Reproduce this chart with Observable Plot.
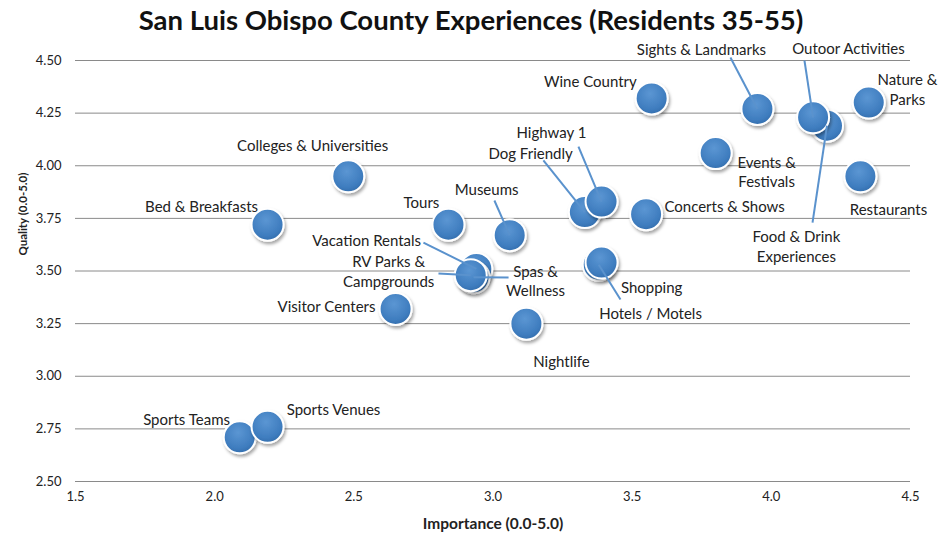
<!DOCTYPE html>
<html><head><meta charset="utf-8">
<script src="https://cdn.jsdelivr.net/npm/d3@7"></script>
<script src="https://cdn.jsdelivr.net/npm/@observablehq/plot@0.6"></script>
<style>
body{margin:0;background:#fff;font-family:Lato,"Open Sans",sans-serif;}
#title{height:40px;text-align:center;font-weight:bold;font-size:27.5px;line-height:40px;color:#111;white-space:nowrap;}
</style></head><body>
<div id="title">San Luis Obispo County Experiences (Residents 35-55)</div>
<div id="chart"></div>
<script>
// Data (drawing order: later items on top)
const names = ["Wine Country","Sights & Landmarks","Food & Drink Experiences","Outoor Activities","Nature & Parks","Events & Festivals","Restaurants","Concerts & Shows","Dog Friendly","Highway 1","Hotels / Motels","Shopping","Museums","Tours","Colleges & Universities","Bed & Breakfasts","Vacation Rentals","Spas & Wellness","RV Parks & Campgrounds","Visitor Centers","Nightlife","Sports Teams","Sports Venues"];
const importance = [3.57,3.95,4.20,4.15,4.35,3.80,4.32,3.55,3.33,3.39,3.38,3.39,3.06,2.84,2.48,2.19,2.94,2.93,2.92,2.65,3.12,2.09,2.19];
const quality    = [4.32,4.27,4.19,4.23,4.30,4.06,3.95,3.77,3.78,3.83,3.53,3.54,3.67,3.72,3.95,3.72,3.51,3.47,3.48,3.32,3.25,2.71,2.76];
const labels = ["Wine Country","Sights & Landmarks","Food & Drink\nExperiences","Outoor Activities","Nature &\nParks","Events &\nFestivals","Restaurants","Concerts & Shows","Dog Friendly","Highway 1","Hotels / Motels","Shopping","Museums","Tours","Colleges & Universities","Bed & Breakfasts","Vacation Rentals","Spas &\nWellness","RV Parks &\nCampgrounds","Visitor Centers","Nightlife","Sports Teams","Sports Venues"];
// label anchor positions (data units)
const labelX = [3.350,3.749,4.090,4.277,4.489,3.983,4.421,3.832,3.135,3.210,3.566,3.570,2.977,2.743,2.352,1.953,2.546,3.153,2.625,2.402,3.246,1.899,2.427];
const labelY = [4.405,4.557,3.621,4.562,4.365,3.973,3.797,3.811,4.063,4.163,3.303,3.426,3.892,3.830,4.101,3.811,3.650,3.455,3.502,3.336,3.075,2.799,2.847];
// leader line start (data units), null = no leader
const leaderX = [null,3.853,4.148,4.119,null,null,null,null,3.181,3.307,3.458,null,3.005,null,null,null,2.750,3.056,2.804,null,null,null,null];
const leaderY = [null,4.514,3.730,4.500,null,null,null,null,4.025,4.091,3.365,null,3.835,null,null,null,3.635,3.469,3.488,null,null,null,null];
const xTicks = [1.5,2.0,2.5,3.0,3.5,4.0,4.5];
const yTicks = [2.50,2.75,3.00,3.25,3.50,3.75,4.00,4.25,4.50];

const pts = names.map((n,i)=>({name:n, x:importance[i], y:quality[i], label:labels[i], lx:labelX[i], ly:labelY[i], sx:leaderX[i], sy:leaderY[i]}));
const leaders = pts.filter(d=>d.sx!=null);

const plot = Plot.plot({
  width: 942, height: 501,
  marginTop: 20, marginBottom: 60, marginLeft: 75, marginRight: 32,
  style: {fontFamily: "Lato, 'Open Sans', sans-serif", fontSize: "13px", color: "#222", background: "#fff"},
  x: {domain: [1.5, 4.5]},
  y: {domain: [2.5, 4.5]},
  marks: [
    Plot.gridY(yTicks, {stroke: "#8a8a8a", strokeOpacity: 1, strokeWidth: 1}),
    Plot.axisY(yTicks, {tickSize: 0, tickPadding: 14, tickFormat: d => d.toFixed(2), label: null, fontSize: 13}),
    Plot.axisX(xTicks, {tickSize: 0, tickPadding: 10, tickFormat: d => d.toFixed(1), label: null, fontSize: 13}),
    Plot.text(["Importance (0.0-5.0)"], {frameAnchor: "bottom", dy: 47, fontWeight: "bold", fontSize: 15.5, fill: "#222"}),
    Plot.text(["Quality (0.0-5.0)"], {frameAnchor: "top-left", dx: -57, dy: 195, rotate: -90, fontWeight: "bold", fontSize: 11.5, fill: "#222"}),
    Plot.dot(pts, {x: "x", y: "y", r: 16, fill: "url(#ballGrad)", stroke: "white", strokeWidth: 2}),
    Plot.link(leaders, {x1: "sx", y1: "sy", x2: "x", y2: "y", stroke: "#5a92cd", strokeWidth: 2}),
    Plot.text(pts, {x: "lx", y: "ly", text: "label", fontSize: 15, fill: "#222", lineHeight: 1.3})
  ]
});
document.getElementById("chart").appendChild(plot);
const svg = d3.select(plot);
svg.insert("defs", ":first-child").html(`
  <radialGradient id="ballGrad" cx="45%" cy="35%" r="70%">
    <stop offset="0%" stop-color="#5b96d3"/>
    <stop offset="70%" stop-color="#3f7dbf"/>
    <stop offset="100%" stop-color="#306aa9"/>
  </radialGradient>
  <filter id="shadow" x="-50%" y="-50%" width="200%" height="200%">
    <feDropShadow dx="1.5" dy="2.5" stdDeviation="1.8" flood-color="#000" flood-opacity="0.35"/>
  </filter>`);
svg.selectAll("g[aria-label='dot'] circle").attr("filter", "url(#shadow)");
</script>
</body></html>
